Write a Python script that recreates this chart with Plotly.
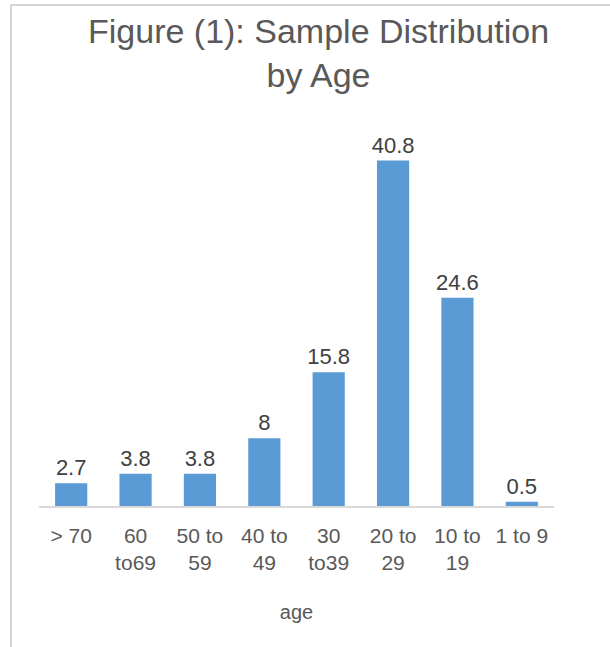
import plotly.graph_objects as go

categories = ["> 70", "60<br>to69", "50 to<br>59", "40 to<br>49", "30<br>to39", "20 to<br>29", "10 to<br>19", "1 to 9"]
values = [2.7, 3.8, 3.8, 8, 15.8, 40.8, 24.6, 0.5]
labels = ["2.7", "3.8", "3.8", "8", "15.8", "40.8", "24.6", "0.5"]

W, H = 610, 647
ml = 39
mt = 125
mb = H - 506
mr = W - 554
pw = W - ml - mr
ph = H - mt - mb

FONT = "Liberation Sans, Arial, sans-serif"

fig = go.Figure(go.Bar(
    x=categories, y=values, text=labels, textposition="outside",
    constraintext="none",
    textfont=dict(family=FONT, size=22, color="#404040"),
    marker=dict(color="#5B9BD5", line=dict(width=0)),
    cliponaxis=False,
))

def px_x(p):
    return (p - ml) / pw

def px_y(p):
    return (H - mb - p) / ph

fig.update_layout(
    width=W, height=H,
    margin=dict(l=ml, r=mr, t=mt, b=mb),
    paper_bgcolor="white", plot_bgcolor="white",
    bargap=0.5,
    showlegend=False,
    font=dict(family=FONT, color="#595959"),
    xaxis=dict(
        showline=True, linecolor="#D9D9D9", linewidth=1.5,
        ticks="", showgrid=False,
        tickfont=dict(size=21, color="#595959"),
        ticklabelstandoff=10,
        title=dict(text="age", font=dict(size=20, color="#595959"), standoff=32),
    ),
    yaxis=dict(range=[0, 45], visible=False, showgrid=False),
    annotations=[
        dict(text="Figure (1): Sample Distribution<br>by Age",
             xref="paper", yref="paper", x=px_x(318), y=px_y(10),
             xanchor="center", yanchor="top", showarrow=False,
             font=dict(family=FONT, size=34, color="#595959")),
    ],
    shapes=[
        dict(type="line", xref="paper", yref="paper",
             x0=px_x(10), x1=px_x(W + 20), y0=px_y(5), y1=px_y(5),
             line=dict(color="#D4D4D4", width=2)),
        dict(type="line", xref="paper", yref="paper",
             x0=px_x(11), x1=px_x(11), y0=px_y(5), y1=px_y(H + 20),
             line=dict(color="#D4D4D4", width=2)),
    ],
)

fig.write_html("out.html", config={"displayModeBar": False},
               post_script="document.body.style.margin='0px';")
